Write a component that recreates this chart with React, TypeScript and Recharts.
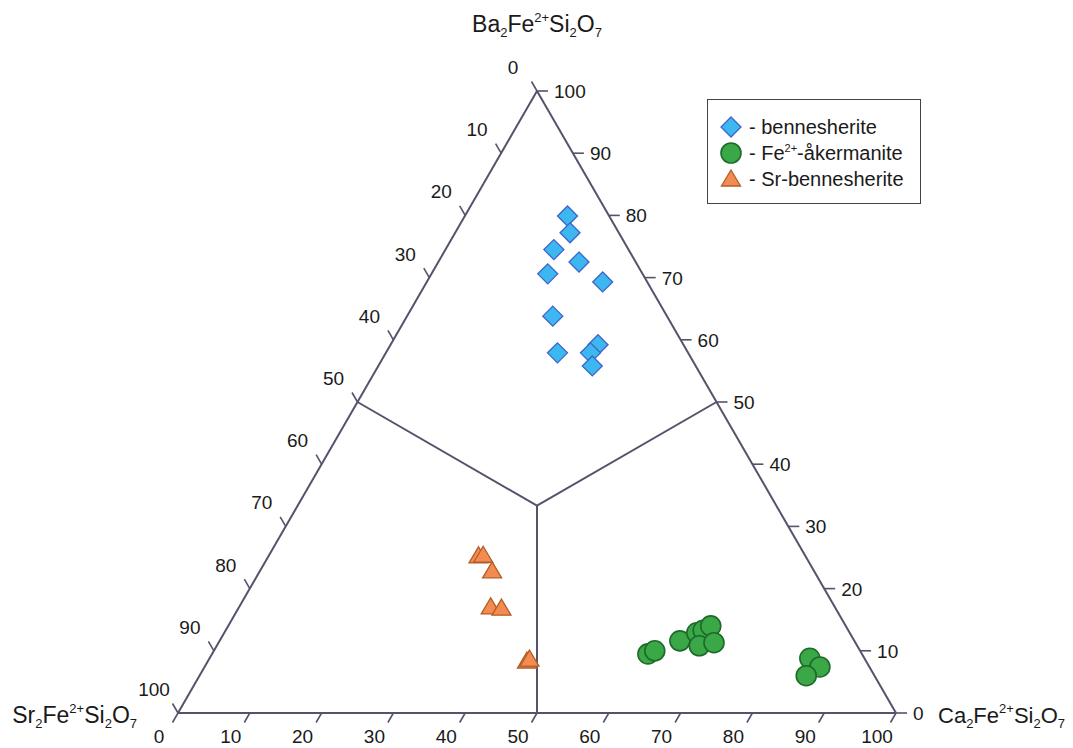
import { ScatterChart, Scatter, XAxis, YAxis, ReferenceLine } from 'recharts'

const SQ3 = Math.sqrt(3) / 2

// compositions (mol %): Ba2Fe2+Si2O7 and Ca2Fe2+Si2O7 share, Sr2Fe2+Si2O7 is the remainder
const bennBa = [79.9, 77.2, 74.5, 72.5, 70.6, 69.3, 63.8, 57.9, 59.2, 57.9, 55.8]
const bennCa = [14.3, 16.0, 15.1, 19.6, 16.2, 24.5, 20.3, 23.9, 28.9, 28.5, 29.8]

const akerBa = [9.5, 10.0, 11.6, 12.9, 13.3, 14.0, 10.8, 11.3, 8.8, 7.4, 6.0]
const akerCa = [60.7, 61.4, 64.1, 65.8, 66.5, 67.2, 67.2, 69.0, 83.6, 85.7, 84.5]

const srBennBa = [25.1, 25.2, 22.7, 16.9, 16.7, 8.2, 8.5]
const srBennCa = [29.3, 29.9, 32.4, 35.1, 36.7, 44.5, 44.7]

const tickValues = [0, 10, 20, 30, 40, 50, 60, 70, 80, 90, 100]

const COLORS = {
  axis: '#57526b',
  text: '#1a1a1a',
  benn: '#3cb7ef',
  bennStroke: '#3f63c9',
  aker: '#3aa847',
  akerStroke: '#1e6a2b',
  srBenn: '#f28c52',
  srBennStroke: '#b35d27',
}

const FONT = '"Liberation Sans", Arial, sans-serif'

// ternary (Ba, Ca) -> cartesian in percent units
const toXY = (ba: number, ca: number) => ({ x: ca + ba / 2, y: ba * SQ3 })

const bennData = bennBa.map((b, i) => toXY(b, bennCa[i]))
const akerData = akerBa.map((b, i) => toXY(b, akerCa[i]))
const srBennData = srBennBa.map((b, i) => toXY(b, srBennCa[i]))

const bottomTicks = tickValues.map(v => ({ ...toXY(0, v), label: v, side: 'bottom' }))
const leftTicks = tickValues.map(v => ({ ...toXY(100 - v, 0), label: v, side: 'left' }))
const rightTicks = tickValues.map(v => ({ ...toXY(v, 100 - v), label: v, side: 'right' }))
const allTicks = [...bottomTicks, ...leftTicks, ...rightTicks]

const corners = [
  { ...toXY(100, 0), name: ['Ba', '2', 'Fe', '2+', 'Si', '2', 'O', '7'], pos: 'top' },
  { ...toXY(0, 0), name: ['Sr', '2', 'Fe', '2+', 'Si', '2', 'O', '7'], pos: 'left' },
  { ...toXY(0, 100), name: ['Ca', '2', 'Fe', '2+', 'Si', '2', 'O', '7'], pos: 'right' },
]

const edges = [
  [toXY(0, 0), toXY(0, 100)],
  [toXY(0, 100), toXY(100, 0)],
  [toXY(100, 0), toXY(0, 0)],
]
const centre = toXY(100 / 3, 100 / 3)
const fields = [
  [toXY(50, 0), centre],
  [toXY(50, 50), centre],
  [toXY(0, 50), centre],
]

const TICK_STYLE: Record<string, { tx: number; ty: number; lx: number; ly: number; anchor: 'start' | 'middle' | 'end' }> = {
  bottom: { tx: -5.5, ty: 9.5, lx: -19, ly: 30, anchor: 'middle' },
  left: { tx: -5.5, ty: -9.5, lx: -24, ly: -17, anchor: 'middle' },
  right: { tx: 11, ty: 0, lx: 17, ly: 7, anchor: 'start' },
}

const TickMark = (props: any) => {
  const { cx, cy, payload } = props
  const s = TICK_STYLE[payload.side]
  return (
    <g>
      <line x1={cx} y1={cy} x2={cx + s.tx} y2={cy + s.ty} stroke={COLORS.axis} strokeWidth={1.6} />
      <text x={cx + s.lx} y={cy + s.ly} textAnchor={s.anchor} fontSize={19} fontFamily={FONT} fill={COLORS.text}>
        {payload.label}
      </text>
    </g>
  )
}

const CornerLabel = (props: any) => {
  const { cx, cy, payload } = props
  const n: string[] = payload.name
  let x = cx
  let y = cy
  let size = 23
  let anchor: 'start' | 'middle' | 'end' = 'middle'
  if (payload.pos === 'top') { y = cy - 59 }
  if (payload.pos === 'left') { x = cx - 41; y = cy + 10; anchor = 'end' }
  if (payload.pos === 'right') { x = cx + 42; y = cy + 10; anchor = 'start'; size = 22 }
  return (
    <text x={x} y={y} textAnchor={anchor} fontFamily={FONT} fill={COLORS.text} fontSize={size}>
      <tspan>{n[0]}</tspan>
      <tspan fontSize={13} dy={5}>{n[1]}</tspan>
      <tspan dy={-5}>{n[2]}</tspan>
      <tspan fontSize={13} dy={-10}>{n[3]}</tspan>
      <tspan dy={10}>{n[4]}</tspan>
      <tspan fontSize={13} dy={5}>{n[5]}</tspan>
      <tspan dy={-5}>{n[6]}</tspan>
      <tspan fontSize={13} dy={5}>{n[7]}</tspan>
    </text>
  )
}

const Diamond = ({ cx, cy }: any) => (
  <polygon
    points={`${cx},${cy - 10} ${cx + 10},${cy} ${cx},${cy + 10} ${cx - 10},${cy}`}
    fill={COLORS.benn}
    stroke={COLORS.bennStroke}
    strokeWidth={1.3}
  />
)
const Dot = ({ cx, cy }: any) => (
  <circle cx={cx} cy={cy} r={10} fill={COLORS.aker} stroke={COLORS.akerStroke} strokeWidth={1.6} />
)
const Tri = ({ cx, cy }: any) => (
  <polygon
    points={`${cx},${cy - 10} ${cx + 9.5},${cy + 6} ${cx - 9.5},${cy + 6}`}
    fill={COLORS.srBenn}
    stroke={COLORS.srBennStroke}
    strokeWidth={1.3}
  />
)

const legendItems = [
  { key: 'benn', icon: <Diamond cx={12} cy={12} />, label: <>- bennesherite</> },
  { key: 'aker', icon: <Dot cx={12} cy={12} />, label: <>- Fe<sup style={{ fontSize: 11 }}>2+</sup>-åkermanite</> },
  { key: 'sr', icon: <Tri cx={12} cy={13} />, label: <>- Sr-bennesherite</> },
]

export default function App() {
  return (
    <div style={{ position: 'relative', width: 1065, height: 740 }}>
      <ScatterChart width={1065} height={740} margin={{ top: 83, right: 177, bottom: 35, left: 170 }}>
        <XAxis type="number" dataKey="x" domain={[0, 100]} hide />
        <YAxis type="number" dataKey="y" domain={[0, 100 * SQ3]} hide />
        {edges.map((seg, i) => (
          <ReferenceLine key={`e${i}`} segment={seg} stroke={COLORS.axis} strokeWidth={2} ifOverflow="visible" />
        ))}
        {fields.map((seg, i) => (
          <ReferenceLine key={`f${i}`} segment={seg} stroke={COLORS.axis} strokeWidth={2} ifOverflow="visible" />
        ))}
        <Scatter data={allTicks} shape={TickMark} isAnimationActive={false} />
        <Scatter data={corners} shape={CornerLabel} isAnimationActive={false} />
        <Scatter data={srBennData} shape={Tri} isAnimationActive={false} />
        <Scatter data={akerData} shape={Dot} isAnimationActive={false} />
        <Scatter data={bennData} shape={Diamond} isAnimationActive={false} />
      </ScatterChart>

      {/* legend */}
      <div
        style={{
          position: 'absolute',
          left: 699,
          top: 91,
          width: 214,
          height: 105,
          border: '1.5px solid #444',
          background: '#fff',
          fontFamily: FONT,
          fontSize: 20,
          color: COLORS.text,
          boxSizing: 'border-box',
          paddingTop: 14,
          paddingLeft: 11,
        }}
      >
        {legendItems.map(item => (
          <div key={item.key} style={{ display: 'flex', alignItems: 'center', height: 26 }}>
            <svg width={24} height={24} style={{ overflow: 'visible', marginRight: 6 }}>
              {item.icon}
            </svg>
            <span style={{ whiteSpace: 'nowrap' }}>{item.label}</span>
          </div>
        ))}
      </div>
    </div>
  )
}
